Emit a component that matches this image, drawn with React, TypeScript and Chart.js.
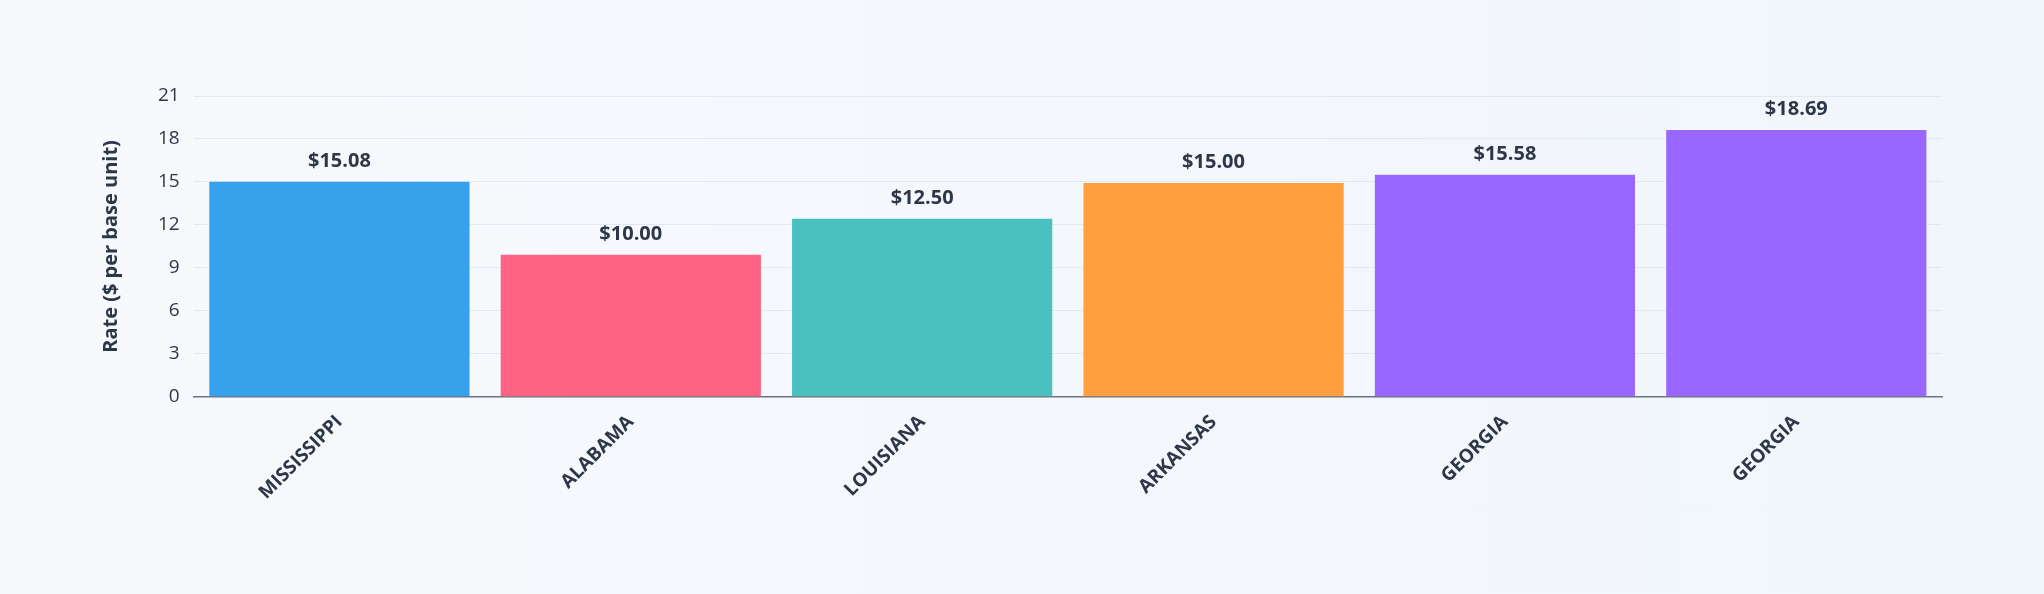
import React, { useEffect, useRef } from "react";
import { Chart, registerables } from "chart.js";

Chart.register(...registerables);

const categories = ["MISSISSIPPI", "ALABAMA", "LOUISIANA", "ARKANSAS", "GEORGIA", "GEORGIA"];
const rates = [15.08, 10.0, 12.5, 15.0, 15.58, 18.69];
const barColors = ["#36A2EB", "#FF6384", "#4BC0C0", "#FF9F40", "#9966FF", "#9966FF"];
const yTicks = [0, 3, 6, 9, 12, 15, 18, 21];
const yTitle = "Rate ($ per base unit)";

const FONT = "'Open Sans', 'Noto Sans', sans-serif";

const valueLabels = {
  id: "valueLabels",
  afterDatasetsDraw(chart: any) {
    const { ctx } = chart;
    const meta = chart.getDatasetMeta(0);
    ctx.save();
    ctx.font = `bold 20px ${FONT}`;
    ctx.fillStyle = "#2d3748";
    ctx.textAlign = "center";
    ctx.textBaseline = "alphabetic";
    meta.data.forEach((bar: any, i: number) => {
      ctx.fillText(`$${rates[i].toFixed(2)}`, bar.x, bar.y - 14);
    });
    ctx.restore();
  },
};

export default function App() {
  const ref = useRef<HTMLCanvasElement | null>(null);

  useEffect(() => {
    document.body.style.margin = "0";
    const chart = new Chart(ref.current as HTMLCanvasElement, {
      type: "bar",
      data: {
        labels: categories,
        datasets: [
          {
            data: rates,
            backgroundColor: barColors,
            borderColor: "rgba(255,255,255,0.35)",
            borderWidth: 1,
            categoryPercentage: 1,
            barPercentage: 0.9,
          },
        ],
      },
      options: {
        animation: false,
        responsive: true,
        maintainAspectRatio: false,
        layout: { padding: { top: 96, right: 102, bottom: 84, left: 99 } },
        plugins: {
          legend: { display: false },
          tooltip: { enabled: false },
        },
        scales: {
          x: {
            grid: { display: false },
            border: { display: true, color: "#6b7280", width: 1.5 },
            ticks: {
              color: "#2d3748",
              font: { family: FONT, size: 19, weight: "bold" },
              maxRotation: 45,
              minRotation: 45,
              padding: 6,
            },
          },
          y: {
            min: 0,
            max: 21,
            afterBuildTicks(axis: any) {
              axis.ticks = yTicks.map((v) => ({ value: v }));
            },
            grid: { color: "#e2e8f0", drawTicks: false, lineWidth: 1 },
            border: { display: false },
            ticks: {
              color: "#2d3748",
              font: { family: FONT, size: 19 },
              padding: 14,
            },
            title: {
              display: true,
              text: yTitle,
              color: "#2d3748",
              font: { family: FONT, size: 20, weight: "bold" },
              padding: { top: 0, bottom: 21 },
            },
          },
        },
      },
      plugins: [valueLabels],
    });
    return () => chart.destroy();
  }, []);

  return (
    <div
      style={{
        width: 2044,
        height: 594,
        background: "linear-gradient(90deg, #f7f9fc 0%, #f1f6fd 100%)",
      }}
    >
      <canvas ref={ref} />
    </div>
  );
}
